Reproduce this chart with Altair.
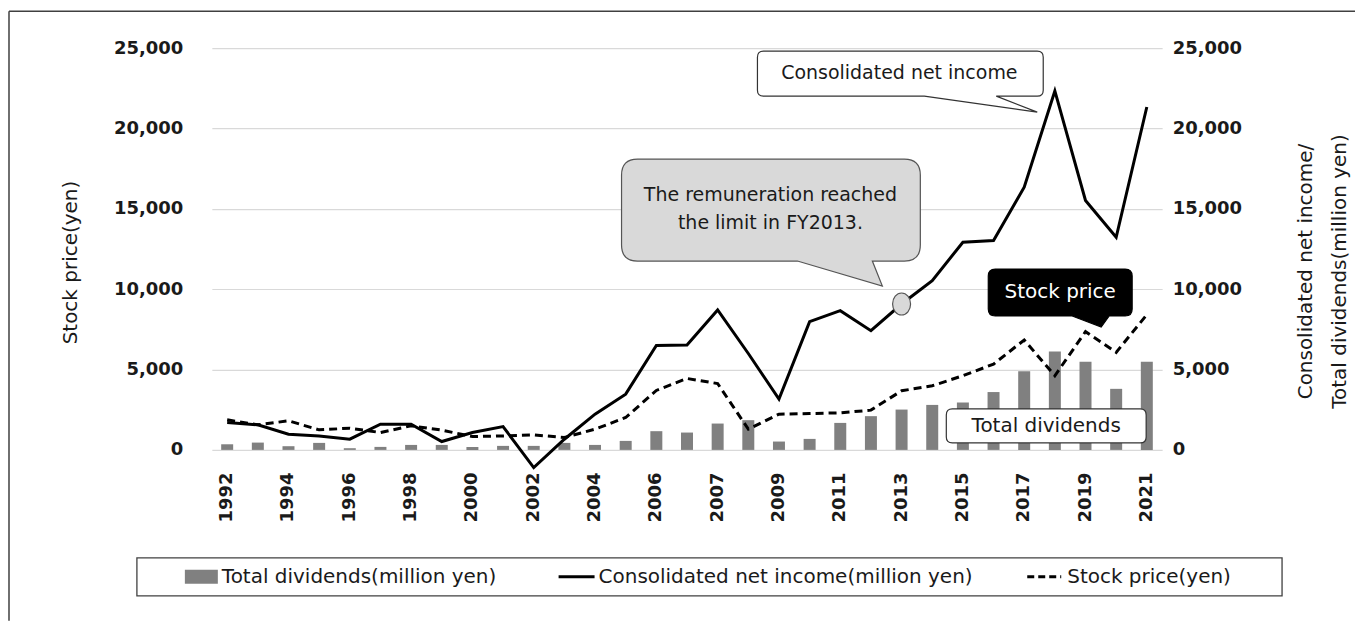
import json
import altair as alt
import pandas as pd

# ---------------- data ----------------
labels = ["1992", "1993", "1994", "1995", "1996", "1997", "1998", "1999", "2000",
          "2001", "2002", "2003", "2004", "2005", "2006", "2006", "2007", "2008",
          "2009", "2010", "2011", "2012", "2013", "2014", "2015", "2016", "2017",
          "2018", "2019", "2020", "2021"]
dividends = [350, 455, 230, 436, 105, 187, 310, 310, 187, 250, 250, 436, 310, 560,
             1165, 1080, 1640, 1850, 520, 685, 1680, 2100, 2510, 2800, 2950, 3600,
             4900, 6130, 5490, 3800, 5490]
net_income = [1700, 1560, 980, 870, 665, 1600, 1600, 520, 1080, 1450, -1100, 665,
              2225, 3470, 6500, 6525, 8710, 6000, 3160, 7980, 8665, 7420, 9080,
              10535, 12925, 13030, 16350, 22340, 15525, 13235, 21340]
stock_price = [1870, 1560, 1810, 1250, 1350, 1080, 1500, 1230, 830, 870, 935, 770,
               1290, 2015, 3700, 4445, 4130, 1290, 2225, 2265, 2305, 2475, 3680,
               3990, 4615, 5340, 6840, 4615, 7360, 6070, 8415]
y_ticks = [0, 5000, 10000, 15000, 20000, 25000]
highlight_index = 22  # FY2013

df = pd.DataFrame({
    "idx": list(range(len(labels))),
    "year": labels,
    "div": dividends,
    "ni": net_income,
    "sp": stock_price,
})
one = pd.DataFrame({"a": [0]})

W, H = 951, 402
FONT = "DejaVu Sans"
TXT = "#1a1a1a"
GRID = "#d9d9d9"

label_expr = "datum.value % 2 == 0 ? " + json.dumps(labels) + "[datum.value] : ''"

x_enc = alt.X(
    "idx:O",
    scale=alt.Scale(paddingInner=0, paddingOuter=0),
    axis=alt.Axis(
        title=None, labelExpr=label_expr, labelAngle=270, labelFont=FONT,
        labelFontWeight="bold", labelFontSize=18, labelColor=TXT,
        labelPadding=22, ticks=False, tickSize=0, domain=False,
        labelOverlap=False, grid=False,
    ),
)

yscale = alt.Scale(domain=[0, 25000], nice=False, zero=False)

left_axis = alt.Axis(
    orient="left", title="Stock price(yen)", values=y_ticks, format=",.0f",
    grid=True, gridColor=GRID, gridWidth=1.2, domain=False, ticks=False, tickSize=0,
    labelFont=FONT, labelFontWeight="bold", labelFontSize=18, labelColor=TXT,
    labelPadding=29, titleFont=FONT, titleFontSize=20, titleFontWeight="normal",
    titleColor=TXT, titlePadding=33, titleY=214,
)
right_axis = alt.Axis(
    orient="right", title=["Consolidated net income/", "Total dividends(million yen)"],
    values=y_ticks, format=",.0f", grid=False, domain=False, ticks=False, tickSize=0,
    labelFont=FONT, labelFontWeight="bold", labelFontSize=18, labelColor=TXT,
    labelPadding=10, titleFont=FONT, titleFontSize=20, titleFontWeight="normal",
    titleColor=TXT, titlePadding=40, titleAngle=270, titleLineHeight=34, titleY=223,
)

bars = alt.Chart(df).mark_bar(size=12, color="#808080").encode(
    x=x_enc, y=alt.Y("div:Q", scale=yscale, axis=right_axis)
)
ni_line = alt.Chart(df).mark_line(color="black", strokeWidth=3).encode(
    x=x_enc, y=alt.Y("ni:Q", scale=yscale, axis=right_axis)
)
ellipse = "M0,-11 A9,11 0 1,1 0,11 A9,11 0 1,1 0,-11 Z"
marker = alt.Chart(df[df["idx"] == highlight_index]).mark_point(
    shape=ellipse, size=4, filled=True, fill="#d9d9d9", stroke="#555555",
    strokeWidth=1.2, opacity=1,
).encode(x=x_enc, y=alt.Y("ni:Q", scale=yscale, axis=right_axis))

right_group = alt.layer(bars, ni_line, marker)

sp_line = alt.Chart(df).mark_line(color="black", strokeWidth=3, strokeDash=[8, 5]).encode(
    x=x_enc, y=alt.Y("sp:Q", scale=yscale, axis=left_axis)
)

# ---------------- callouts ----------------
def bubble(path, ax, ay, fill, stroke):
    return alt.Chart(one).mark_point(
        shape=path, size=4, filled=True, fill=fill, stroke=stroke,
        strokeWidth=1.2, opacity=1,
    ).encode(x=alt.value(ax), y=alt.value(ay))


def label(text, cx, cy, size=19, color=TXT, lh=None, align="center", weight="normal"):
    kw = dict(text=text, font=FONT, fontSize=size, color=color, align=align,
              baseline="middle", fontWeight=weight)
    if lh is not None:
        kw["lineHeight"] = lh
    return alt.Chart(one).mark_text(**kw).encode(x=alt.value(cx), y=alt.value(cy))


p1 = ("M6,0 H280 Q286,0 286,6 V39 Q286,45 280,45 H239 L280,61 L167,45 H6 "
      "Q0,45 0,39 V6 Q0,0 6,0 Z")
p2 = ("M16,0 H283 Q299,0 299,16 V86 Q299,102 283,102 H251 L261,127 L176,102 H16 "
      "Q0,102 0,86 V16 Q0,0 16,0 Z")
p3 = ("M7,0 H137 Q144,0 144,7 V40 Q144,47 137,47 H121 L113,58 L84,47 H7 "
      "Q0,47 0,40 V7 Q0,0 7,0 Z")
p4 = "M6,0 H194 Q200,0 200,6 V28 Q200,34 194,34 H6 Q0,34 0,28 V6 Q0,0 6,0 Z"

callouts = [
    bubble(p1, 546, 3, "white", "#333333"),
    label("Consolidated net income", 688, 25),
    bubble(p2, 410, 111, "#d9d9d9", "#555555"),
    label(["The remuneration reached", "the limit in FY2013."], 559, 147, lh=28),
    bubble(p3, 777, 221, "black", "black"),
    label("Stock price", 849, 244, color="white", size=20),
    bubble(p4, 735, 361, "white", "#333333"),
    label("Total dividends", 835, 378, size=20),
]

# ---------------- legend ----------------
legend_box = alt.Chart(one).mark_rect(fill="white", stroke="#404040", strokeWidth=1.3).encode(
    x=alt.value(-75), x2=alt.value(1071), y=alt.value(510), y2=alt.value(548)
)
leg_sq = alt.Chart(one).mark_rect(fill="#808080").encode(
    x=alt.value(-27), x2=alt.value(6), y=alt.value(522), y2=alt.value(536)
)
leg_solid = alt.Chart(one).mark_rule(color="black", strokeWidth=3).encode(
    x=alt.value(347), x2=alt.value(383), y=alt.value(529)
)
leg_dash = alt.Chart(one).mark_rule(color="black", strokeWidth=3, strokeDash=[7, 4]).encode(
    x=alt.value(816), x2=alt.value(850), y=alt.value(529)
)
legend = [
    legend_box, leg_sq, leg_solid, leg_dash,
    label("Total dividends(million yen)", 10, 529, size=20, align="left"),
    label("Consolidated net income(million yen)", 387, 529, size=20, align="left"),
    label("Stock price(yen)", 856, 529, size=20, align="left"),
]

# ---------------- outer frame ----------------
frame_top = alt.Chart(one).mark_rule(color="#404040", strokeWidth=1.5).encode(
    x=alt.value(-203), x2=alt.value(1144), y=alt.value(-37)
)
frame_left = alt.Chart(one).mark_rule(color="#404040", strokeWidth=1.5).encode(
    x=alt.value(-203), y=alt.value(-37), y2=alt.value(573)
)

chart = alt.layer(
    right_group, sp_line, *callouts, *legend, frame_top, frame_left
).resolve_scale(y="independent").properties(
    width=W, height=H, padding={"left": 0, "top": 2, "right": 0, "bottom": 0},
    background="white",
).configure_view(stroke=None)

chart.save("out.html", embed_options={"renderer": "svg", "actions": False})
